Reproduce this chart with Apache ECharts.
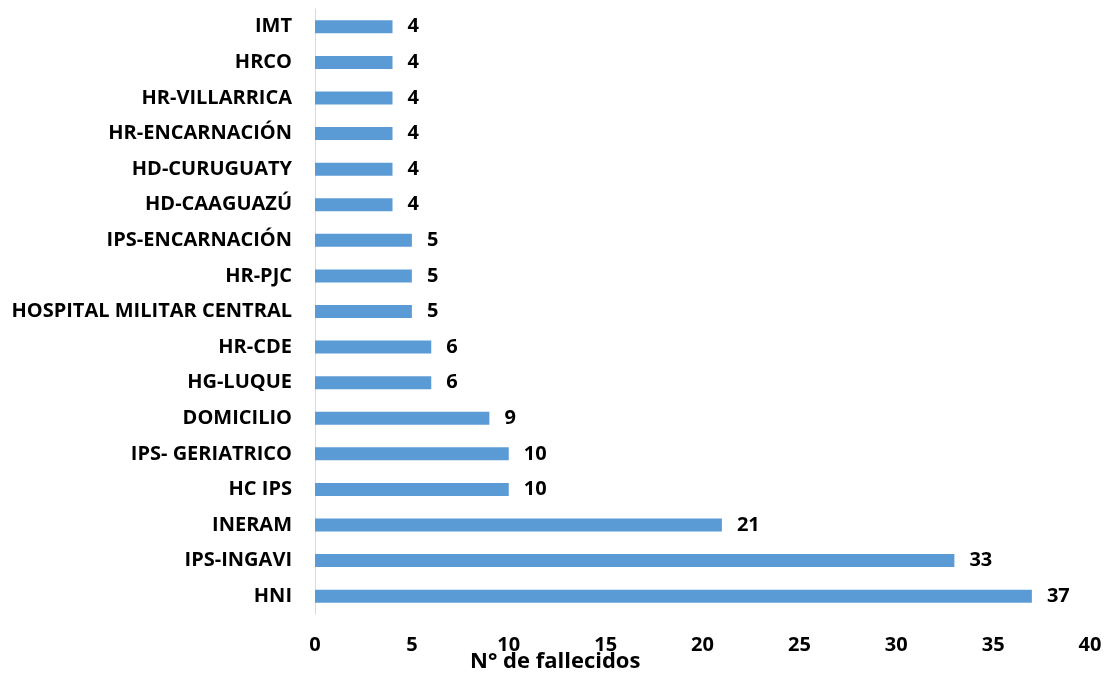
<!DOCTYPE html>
<html><head><meta charset="utf-8">
<script src="https://cdn.jsdelivr.net/npm/echarts@6/dist/echarts.min.js"></script>
<style>html,body{margin:0;padding:0;background:#fff}#c{width:1107px;height:674px}</style>
</head><body><div id="c"></div>
<script>
const categories = ["HNI","IPS-INGAVI","INERAM","HC IPS","IPS- GERIATRICO","DOMICILIO","HG-LUQUE","HR-CDE","HOSPITAL MILITAR CENTRAL","HR-PJC","IPS-ENCARNACIÓN","HD-CAAGUAZÚ","HD-CURUGUATY","HR-ENCARNACIÓN","HR-VILLARRICA","HRCO","IMT"];
const values = [37,33,21,10,10,9,6,6,5,5,5,4,4,4,4,4,4];
const xAxisTitle = "N° de fallecidos";
const font = "Open Sans";
const chart = echarts.init(document.getElementById('c'));
chart.setOption({
  animation:false,
  grid:{left:315,right:17,top:9,bottom:60},
  xAxis:{type:'value',min:0,max:40,interval:5,
    axisLine:{show:false},axisTick:{show:false},splitLine:{show:false},
    axisLabel:{fontFamily:font,fontWeight:'bold',fontSize:20,color:'#000',margin:21}},
  yAxis:{type:'category',data:categories,
    axisLine:{show:true,lineStyle:{color:'#d9d9d9',width:1}},axisTick:{show:false},
    axisLabel:{fontFamily:font,fontWeight:'bold',fontSize:20,color:'#000',margin:23}},
  graphic:[{type:'text',left:470,top:651,style:{text:xAxisTitle,fontFamily:font,fontWeight:'bold',fontSize:22,fill:'#000'}}],
  series:[{type:'bar',data:values,barWidth:13,
    itemStyle:{color:'#5b9bd5'},
    label:{show:true,position:'right',distance:15,fontFamily:font,fontWeight:'bold',fontSize:20,color:'#000'}}]
});
</script></body></html>
